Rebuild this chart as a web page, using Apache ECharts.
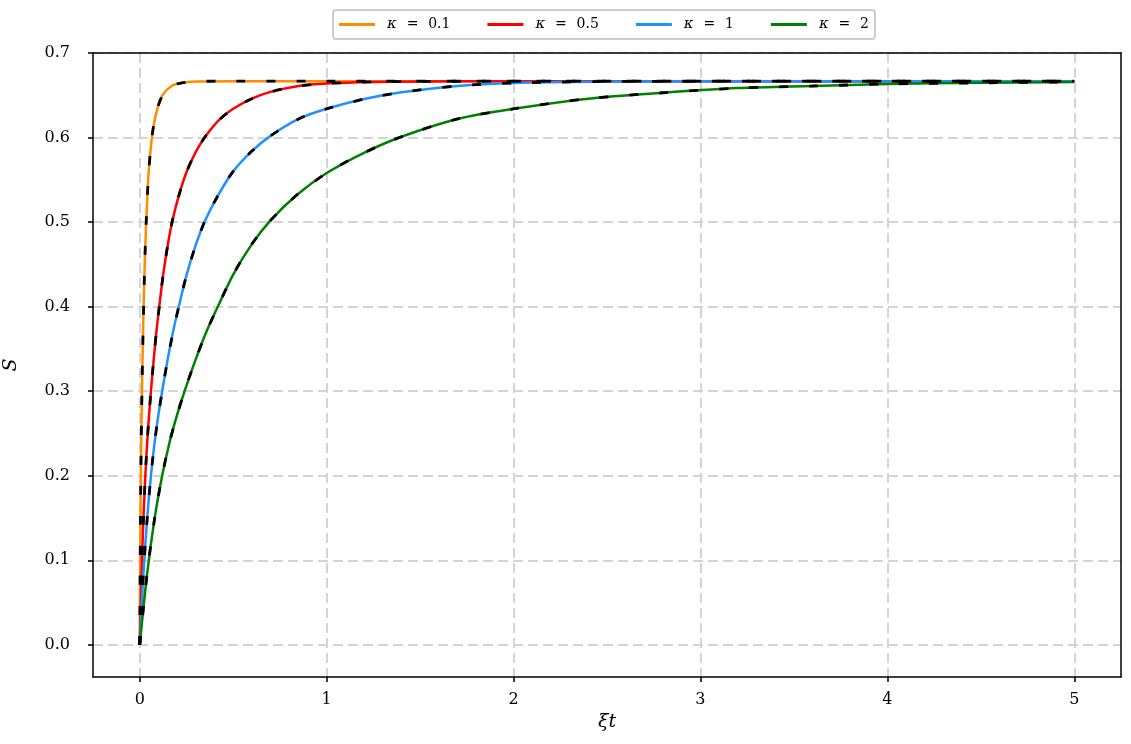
<!DOCTYPE html>
<html>
<head>
<meta charset="utf-8">
<script src="https://cdn.jsdelivr.net/npm/echarts@6/dist/echarts.min.js"></script>
<style>
  html, body { margin: 0; padding: 0; background: #fff; }
  #chart { width: 1131px; height: 744px; }
</style>
</head>
<body>
<div id="chart"></div>
<script>
// legend labels and line colours
const kappas = ["0.1", "0.5", "1", "2"];
const colors = ["#ff8c00", "#ff0000", "#1e90ff", "#008000"];

// axis ticks
const xTicks = [0, 1, 2, 3, 4, 5];
const yTicks = [0, 0.1, 0.2, 0.3, 0.4, 0.5, 0.6, 0.7];

// kappa = 0.1
const tK01 = [0, 0.002, 0.004, 0.006, 0.008, 0.010, 0.012, 0.015, 0.018, 0.021, 0.025, 0.030, 0.035, 0.042, 0.048, 0.0625, 0.075, 0.098, 0.125, 0.17, 0.22, 0.3, 0.5, 1, 2, 3, 4, 5];
const sK01 = [0, 0.085, 0.15, 0.20, 0.24, 0.272, 0.30, 0.338, 0.372, 0.401, 0.437, 0.473, 0.502, 0.535, 0.56, 0.595, 0.615, 0.637, 0.651, 0.661, 0.6645, 0.6663, 0.6667, 0.6667, 0.6667, 0.6667, 0.6667, 0.6667];

// kappa = 0.5
const tK05 = [0, 0.01, 0.02, 0.03, 0.04, 0.05, 0.06, 0.075, 0.09, 0.105, 0.125, 0.15, 0.175, 0.21, 0.25, 0.3, 0.35, 0.425, 0.5, 0.6, 0.7, 0.85, 1.0, 1.25, 1.5, 2, 3, 4, 5];
const sK05 = [0, 0.085, 0.15, 0.20, 0.24, 0.272, 0.30, 0.338, 0.372, 0.401, 0.437, 0.473, 0.502, 0.532, 0.559, 0.583, 0.601, 0.621, 0.634, 0.646, 0.654, 0.661, 0.664, 0.6658, 0.6664, 0.6667, 0.6667, 0.6667, 0.6667];

// kappa = 1
const tK1 = [0, 0.02, 0.04, 0.06, 0.08, 0.1, 0.12, 0.15, 0.18, 0.21, 0.25, 0.3, 0.35, 0.42, 0.5, 0.6, 0.7, 0.85, 1.0, 1.2, 1.4, 1.7, 2.0, 2.5, 3, 4, 5];
const sK1 = [0, 0.085, 0.15, 0.20, 0.24, 0.272, 0.30, 0.338, 0.372, 0.401, 0.437, 0.473, 0.502, 0.532, 0.560, 0.584, 0.602, 0.622, 0.634, 0.6455, 0.6535, 0.661, 0.6645, 0.6662, 0.6666, 0.6667, 0.6667];

// kappa = 2
const tK2 = [0, 0.04, 0.08, 0.12, 0.16, 0.2, 0.24, 0.3, 0.36, 0.42, 0.5, 0.6, 0.7, 0.84, 1.0, 1.2, 1.4, 1.7, 2.0, 2.4, 2.8, 3.2, 3.6, 4.0, 4.5, 5.0];
const sK2 = [0, 0.085, 0.15, 0.20, 0.24, 0.272, 0.30, 0.338, 0.372, 0.401, 0.438, 0.474, 0.502, 0.532, 0.558, 0.582, 0.601, 0.622, 0.634, 0.646, 0.653, 0.6585, 0.661, 0.6633, 0.6647, 0.6657];

const tSets = [tK01, tK05, tK1, tK2];
const sSets = [sK01, sK05, sK1, sK2];

const FONT = "DejaVu Serif";
const GRID_LINE = { color: "#d4d4d4", width: 2, type: [10, 5] };
const SPINE = { color: "#000", width: 1.5 };

const chart = echarts.init(document.getElementById("chart"));

const pairs = (ts, ss) => ts.map((t, i) => [t, ss[i]]);

// coloured curves first, black dashed overlay on top
const series = [];
kappas.forEach((k, i) => {
  series.push({
    name: "κ = " + k,
    type: "line",
    data: pairs(tSets[i], sSets[i]),
    smooth: 0.3,
    symbol: "none",
    lineStyle: { color: colors[i], width: 2.5 },
    itemStyle: { color: colors[i] },
    z: 2,
  });
});
kappas.forEach((k, i) => {
  series.push({
    name: "dash" + i,
    type: "line",
    data: pairs(tSets[i], sSets[i]),
    smooth: 0.3,
    symbol: "none",
    lineStyle: { color: "#000", width: 2.8, type: [9, 21] },
    z: 3,
  });
});

const option = {
  animation: false,
  backgroundColor: "#fff",
  textStyle: { fontFamily: FONT },
  legend: {
    data: kappas.map((k) => "κ = " + k),
    top: 10,
    left: 333,
    icon: "rect",
    itemWidth: 36,
    itemHeight: 3,
    itemGap: 37,
    padding: [7, 6, 7, 6],
    borderColor: "#cccccc",
    borderWidth: 2,
    borderRadius: 3,
    formatter: (name) => "{k|κ}\u2002\u2009=\u2002\u2009" + name.slice(4),
    textStyle: {
      fontFamily: FONT,
      fontSize: 14,
      color: "#000",
      padding: [0, 0, 0, 7],
      rich: { k: { fontStyle: "italic", fontFamily: FONT, fontSize: 15 } },
    },
  },
  grid: {
    left: 93,
    right: 10,
    top: 53,
    bottom: 67,
    containLabel: false,
    outerBoundsMode: "none",
  },
  xAxis: [
    {
      type: "value",
      min: -0.25,
      max: 5.25,
      name: "ξt",
      nameLocation: "middle",
      nameGap: 32,
      nameTextStyle: { fontFamily: FONT, fontStyle: "italic", fontSize: 19, color: "#000" },
      axisLine: { show: true, onZero: false, lineStyle: SPINE },
      axisTick: { show: true, length: 5, customValues: xTicks, lineStyle: SPINE },
      axisLabel: {
        customValues: xTicks,
        margin: 15,
        fontSize: 16,
        color: "#000",
        fontFamily: FONT,
        formatter: (v) => String(v),
      },
      splitLine: { show: true, lineStyle: GRID_LINE },
    },
    {
      // top spine
      type: "value",
      position: "top",
      min: -0.25,
      max: 5.25,
      z: 5,
      axisLine: { show: true, onZero: false, lineStyle: SPINE },
      axisTick: { show: false },
      axisLabel: { show: false },
      splitLine: { show: false },
    },
  ],
  yAxis: [
    {
      type: "value",
      min: -0.038,
      max: 0.7,
      name: "S",
      nameLocation: "middle",
      nameGap: 72,
      nameTextStyle: { fontFamily: FONT, fontStyle: "italic", fontSize: 19, color: "#000" },
      axisLine: { show: true, onZero: false, lineStyle: SPINE },
      axisTick: { show: true, length: 5, customValues: yTicks, lineStyle: SPINE },
      axisLabel: {
        customValues: yTicks,
        margin: 23,
        fontSize: 16,
        color: "#000",
        fontFamily: FONT,
        formatter: (v) => v.toFixed(1),
      },
      splitLine: { show: true, lineStyle: GRID_LINE },
    },
    {
      // right spine
      type: "value",
      position: "right",
      min: -0.038,
      max: 0.7,
      z: 5,
      axisLine: { show: true, onZero: false, lineStyle: SPINE },
      axisTick: { show: false },
      axisLabel: { show: false },
      splitLine: { show: false },
    },
  ],
  series,
};

chart.setOption(option);
window.addEventListener("resize", () => chart.resize());
</script>
</body>
</html>
